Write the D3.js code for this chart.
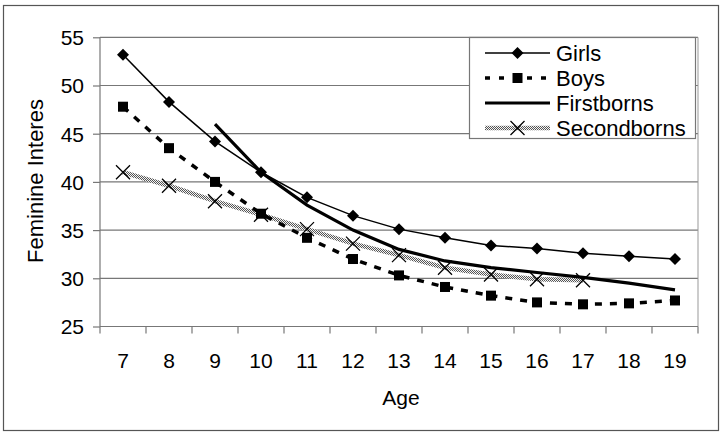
<!DOCTYPE html>
<html><head><meta charset="utf-8">
<script src="https://cdn.jsdelivr.net/npm/d3@7"></script>
<style>body{margin:0;background:#fff}svg{display:block;font-family:"Liberation Sans",Arial,sans-serif}</style>
</head><body><svg id="c" width="728" height="436"></svg>
<script>
const ages = [7,8,9,10,11,12,13,14,15,16,17,18,19];
const girls = [53.2,48.3,44.2,41.0,38.4,36.5,35.1,34.2,33.4,33.1,32.6,32.3,32.0];
const boys = [47.8,43.5,40.0,36.7,34.2,32.0,30.3,29.1,28.2,27.5,27.3,27.4,27.7];
const firstborns = [null,null,46.0,41.0,37.6,35.0,33.0,31.8,31.1,30.6,30.1,29.5,28.8];
const secondborns = [41.0,39.6,38.0,36.6,35.1,33.6,32.4,31.1,30.4,29.9,29.8,null,null];
const yTicks = [25,30,35,40,45,50,55];
const seriesNames = ["Girls","Boys","Firstborns","Secondborns"];

const svg = d3.select("#c");
const defs = svg.append("defs");
const pat = defs.append("pattern").attr("id","hatch").attr("patternUnits","userSpaceOnUse")
  .attr("width",2).attr("height",2);
pat.append("rect").attr("width",2).attr("height",2).attr("fill","#f4f4f4");
pat.append("rect").attr("width",1).attr("height",1).attr("fill","#555");
pat.append("rect").attr("x",1).attr("y",1).attr("width",1).attr("height",1).attr("fill","#555");

svg.append("rect").attr("x",3.5).attr("y",5.5).attr("width",715).attr("height",425)
  .attr("fill","#fff").attr("stroke","#555").attr("stroke-width",1.2);

const x = d3.scaleBand().domain(ages).range([100,698]).padding(0);
const y = d3.scaleLinear().domain([25,55]).range([326.5,37.3]);
const cx = a => x(a) + x.bandwidth()/2;
const FONT = "Liberation Sans, Arial, sans-serif";

// gridlines
svg.append("g").selectAll("line").data(yTicks.slice(1)).join("line")
  .attr("x1",100).attr("x2",698).attr("y1",d=>y(d)).attr("y2",d=>y(d))
  .attr("stroke","#777").attr("stroke-width",1.2);
// right border of plot
svg.append("line").attr("x1",698).attr("x2",698).attr("y1",y(55)).attr("y2",y(25))
  .attr("stroke","#999").attr("stroke-width",1);

// y axis
const yAxis = d3.axisLeft(y).tickValues(yTicks).tickSize(7).tickPadding(9).tickFormat(d3.format("d"));
const gy = svg.append("g").attr("transform","translate(100,0)").call(yAxis);
gy.select(".domain").attr("stroke","#777").attr("stroke-width",1.2).attr("d","M0,"+y(55)+"V"+y(25));
gy.selectAll(".tick line").attr("stroke","#777").attr("stroke-width",1.2);
gy.selectAll("text").attr("font-size",21).attr("fill","#000").attr("font-family",FONT).attr("dy","0.35em");

// x axis
const xAxis = d3.axisBottom(x).tickSize(0).tickPadding(27);
const gx = svg.append("g").attr("transform","translate(0,"+y(25)+")").call(xAxis);
gx.select(".domain").attr("stroke","#777").attr("stroke-width",1.2).attr("d","M100,0H698");
gx.selectAll("text").attr("font-size",21).attr("fill","#000").attr("font-family",FONT);
// category boundary ticks
const bounds = ages.map(a=>x(a)).concat([x(ages[ages.length-1])+x.bandwidth()]);
svg.append("g").selectAll("line").data(bounds).join("line")
  .attr("x1",d=>d).attr("x2",d=>d).attr("y1",y(25)).attr("y2",y(25)+7)
  .attr("stroke","#777").attr("stroke-width",1.2);

// axis titles
svg.append("text").attr("x",401).attr("y",405).attr("text-anchor","middle")
  .attr("font-size",21).text("Age");
svg.append("text").attr("transform","translate(43,181) rotate(-90)")
  .attr("text-anchor","middle").attr("font-size",22).text("Feminine Interes");

const line = d3.line().defined(d=>d.v!=null).x(d=>cx(d.a)).y(d=>y(d.v));
const toPts = arr => ages.map((a,i)=>({a:a,v:arr[i]}));

// Secondborns
svg.append("path").attr("d",line(toPts(secondborns))).attr("fill","none")
  .attr("stroke","url(#hatch)").attr("stroke-width",4.5);
// Boys
svg.append("path").attr("d",line(toPts(boys))).attr("fill","none")
  .attr("stroke","#000").attr("stroke-width",3.5).attr("stroke-dasharray","7,8");
// Firstborns
svg.append("path").attr("d",line(toPts(firstborns))).attr("fill","none")
  .attr("stroke","#000").attr("stroke-width",3.2);
// Girls
svg.append("path").attr("d",line(toPts(girls))).attr("fill","none")
  .attr("stroke","#000").attr("stroke-width",1.5);

function drawDiamond(g,px,py){ g.append("path").attr("d","M0,-6L6,0L0,6L-6,0Z").attr("transform","translate("+px+","+py+")").attr("fill","#000"); }
function drawSquare(g,px,py){ g.append("rect").attr("x",px-5).attr("y",py-5).attr("width",10).attr("height",10).attr("fill","#000"); }
function drawX(g,px,py){ g.append("path").attr("d","M-7,-7L7,7M-7,7L7,-7").attr("transform","translate("+px+","+py+")").attr("stroke","#000").attr("stroke-width",1.3).attr("fill","none"); }

const mk = svg.append("g");
toPts(boys).forEach(d=>drawSquare(mk,cx(d.a),y(d.v)));
toPts(secondborns).filter(d=>d.v!=null).forEach(d=>drawX(mk,cx(d.a),y(d.v)));
toPts(girls).forEach(d=>drawDiamond(mk,cx(d.a),y(d.v)));

// legend
const lg = svg.append("g");
lg.append("rect").attr("x",469.5).attr("y",37.5).attr("width",226).attr("height",101)
  .attr("fill","#fff").attr("stroke","#777").attr("stroke-width",1.2);
const rows = [53,78,103,128];
const lx1 = 485, lx2 = 550, lm = 517.5;
lg.append("line").attr("x1",lx1).attr("x2",lx2).attr("y1",rows[0]).attr("y2",rows[0]).attr("stroke","#000").attr("stroke-width",1.5);
drawDiamond(lg,lm,rows[0]);
lg.append("line").attr("x1",lx1).attr("x2",lx2).attr("y1",rows[1]).attr("y2",rows[1]).attr("stroke","#000").attr("stroke-width",3.5).attr("stroke-dasharray","5,9");
drawSquare(lg,lm,rows[1]);
lg.append("line").attr("x1",lx1).attr("x2",lx2).attr("y1",rows[2]).attr("y2",rows[2]).attr("stroke","#000").attr("stroke-width",3.2);
lg.append("line").attr("x1",lx1).attr("x2",lx2).attr("y1",rows[3]).attr("y2",rows[3]).attr("stroke","url(#hatch)").attr("stroke-width",4.5);
drawX(lg,lm,rows[3]);
lg.selectAll("text.l").data(seriesNames).join("text").attr("class","l")
  .attr("x",556).attr("y",(d,i)=>rows[i]).attr("dy","0.36em").attr("font-size",22).text(d=>d);
</script></body></html>
